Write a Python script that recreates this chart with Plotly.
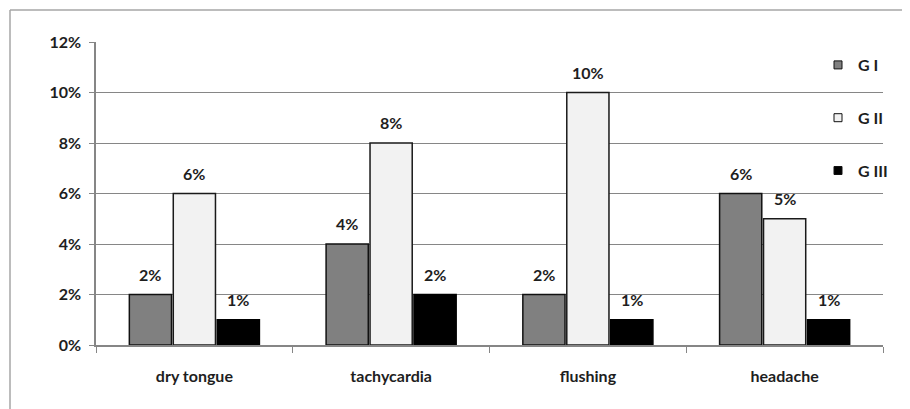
import plotly.graph_objects as go

categories = ["dry tongue", "tachycardia", "flushing", "headache"]
g1 = [0.02, 0.04, 0.02, 0.06]
g2 = [0.06, 0.08, 0.10, 0.05]
g3 = [0.01, 0.02, 0.01, 0.01]
series_names = ["G I", "G II", "G III"]
y_ticks = [0, 0.02, 0.04, 0.06, 0.08, 0.10, 0.12]

# page body has an 8px margin; figure is sized to fit inside the window
W, H = 902, 401
L, R, T, B = 88, 27, 34, 64
pw, ph = W - L - R, H - T - B

BARGAP, GROUPGAP = 0.33, 0.04
FS = 16
font_fam = "Lato, Open Sans, Liberation Sans, sans-serif"
txt_col = "#1e1e1e"

fig = go.Figure()
fills = ["#808080", "#f2f2f2", "#000000"]
outlines = ["#111111", "#1a1a1a", "#000000"]
series = [g1, g2, g3]
for i, (name, vals) in enumerate(zip(series_names, series)):
    fig.add_trace(go.Bar(
        x=categories, y=vals, name=name, showlegend=False,
        marker=dict(color=fills[i], line=dict(color=outlines[i], width=1.5)),
    ))
# legend entries with small square swatches
for i, name in enumerate(series_names):
    fig.add_trace(go.Scatter(
        x=[None], y=[None], mode="markers", name=name, legendgroup=name,
        marker=dict(symbol="square", size=8, color=fills[i],
                    line=dict(color="#111111", width=1)),
    ))

# value labels above each bar (offset within group derived from bar layout)
cat_px = pw / len(categories)
slot_px = cat_px * (1 - BARGAP) / len(series)
annotations = []
for i, vals in enumerate(series):
    for c, v in zip(categories, vals):
        annotations.append(dict(
            x=c, y=v, xref="x", yref="y", text=f"{round(v*100)}%",
            showarrow=False, xanchor="center", yanchor="bottom",
            xshift=(i - 1) * slot_px, yshift=9,
            font=dict(size=FS, color=txt_col, family=font_fam, weight="bold"),
        ))

def px2x(px):
    return (px - L) / pw

def py2y(py):
    return (H - B - py) / ph

shapes = [
    dict(type="line", xref="paper", yref="paper", x0=px2x(2), x1=px2x(905), y0=py2y(2), y1=py2y(2),
         line=dict(color="#a6a6a6", width=1.5)),
    dict(type="line", xref="paper", yref="paper", x0=px2x(2), x1=px2x(2), y0=py2y(2), y1=py2y(405),
         line=dict(color="#a6a6a6", width=1.5)),
]

fig.update_layout(
    width=W, height=H,
    margin=dict(l=L, r=R, t=T, b=B),
    paper_bgcolor="white", plot_bgcolor="white",
    barmode="group", bargap=BARGAP, bargroupgap=GROUPGAP,
    font=dict(family=font_fam, size=FS, color=txt_col),
    showlegend=True,
    legend=dict(
        x=px2x(810), y=py2y(40), xanchor="left", yanchor="top",
        tracegroupgap=29, itemwidth=30,
        font=dict(size=FS, family=font_fam, weight="bold", color=txt_col),
        bgcolor="rgba(0,0,0,0)",
    ),
    shapes=shapes,
    annotations=annotations,
    xaxis=dict(
        showline=True, linecolor="#868686", linewidth=1.5,
        ticks="outside", tickson="boundaries", ticklen=6, tickcolor="#868686",
        showgrid=False,
        tickfont=dict(size=FS, family=font_fam, weight="bold", color=txt_col),
        ticklabelstandoff=16,
    ),
    yaxis=dict(
        range=[0, 0.12], tickvals=y_ticks, tickformat=".0%",
        showline=True, linecolor="#868686", linewidth=1.5,
        ticks="outside", ticklen=5, tickcolor="#868686",
        showgrid=True, gridcolor="#868686", gridwidth=1,
        zeroline=False, ticklabelstandoff=5,
        tickfont=dict(size=FS, family=font_fam, weight="bold", color=txt_col),
    ),
)

fig.write_html("out.html")
